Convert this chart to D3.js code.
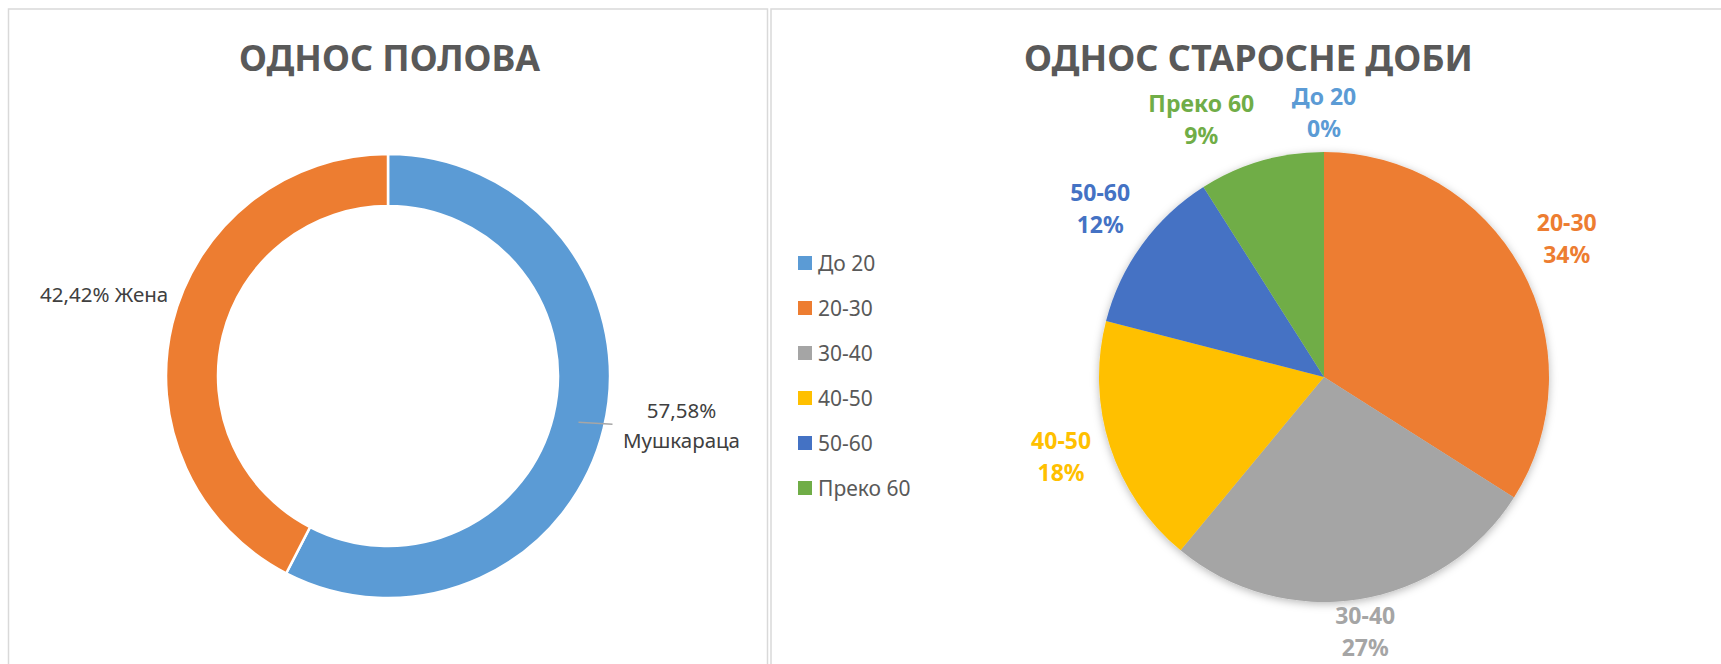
<!DOCTYPE html>
<meta charset="utf-8">
<title>Однос полова и старосне доби</title>
<style>
  body { margin: 0; background: #fff; }
  svg { display: block; font-family: "Noto Sans", "Open Sans", sans-serif; }
</style>
<body>
<script src="https://d3js.org/d3.v7.min.js"></script>
<script>

// gender split (doughnut)
var genderNames = ["Мушкараца", "Жена"];
var genderValues = [57.58, 42.42];
var genderColors = ["#5B9BD5", "#ED7D31"];

// age groups (pie)
var ageGroups = ["До 20", "20-30", "30-40", "40-50", "50-60", "Преко 60"];
var ageValues = [0, 34, 27, 18, 12, 9];
var ageColors = ["#5B9BD5", "#ED7D31", "#A5A5A5", "#FFC000", "#4472C4", "#70AD47"];

var titles = ["ОДНОС ПОЛОВА", "ОДНОС СТАРОСНЕ ДОБИ"];

var width = 1721,
    height = 664;

var svg = d3.select("body").append("svg")
    .attr("width", width)
    .attr("height", height);

var defs = svg.append("defs");
var shadow = defs.append("filter")
    .attr("id", "shadow")
    .attr("x", "-20%").attr("y", "-20%")
    .attr("width", "140%").attr("height", "140%");
shadow.append("feDropShadow")
    .attr("dx", 0).attr("dy", 2)
    .attr("stdDeviation", 4)
    .attr("flood-color", "#000")
    .attr("flood-opacity", 0.28);

// panel frames
svg.append("rect")
    .attr("x", 8.5).attr("y", 9)
    .attr("width", 759).attr("height", 700)
    .attr("fill", "none").attr("stroke", "#d9d9d9").attr("stroke-width", 1.5);
svg.append("rect")
    .attr("x", 771).attr("y", 9)
    .attr("width", 1000).attr("height", 700)
    .attr("fill", "none").attr("stroke", "#d9d9d9").attr("stroke-width", 1.5);

// titles (Calibri-like narrow bold, so squeeze to the reference width)
var titleSpec = [{x: 389.5, w: 301}, {x: 1248.5, w: 449}];
svg.selectAll("text.title")
  .data(titles)
  .enter().append("text")
    .attr("class", "title")
    .attr("x", (d, i) => titleSpec[i].x)
    .attr("y", 71)
    .attr("text-anchor", "middle")
    .attr("font-size", 36.5)
    .attr("font-weight", 700)
    .attr("fill", "#595959")
    .attr("textLength", (d, i) => titleSpec[i].w)
    .attr("lengthAdjust", "spacingAndGlyphs")
    .text(d => d);

// ---------- doughnut ----------
var dCx = 388, dCy = 376, dOuter = 222, dInner = 170;

var gPie = d3.pie().sort(null).value(d => d)(genderValues);
var dArc = d3.arc().innerRadius(dInner).outerRadius(dOuter);

var donut = svg.append("g").attr("transform", "translate(" + dCx + "," + dCy + ")");

donut.selectAll("path")
  .data(gPie)
  .enter().append("path")
    .attr("d", dArc)
    .attr("fill", (d, i) => genderColors[i])
    .attr("stroke", "#fff")
    .attr("stroke-width", 2.5);

var fmtComma = v => d3.format(".2f")(v).replace(".", ",") + "%";

function polar(a, r) { return [Math.sin(a) * r, -Math.cos(a) * r]; }

// Мушкараца: label moved out with leader line
var m = gPie[0], mMid = (m.startAngle + m.endAngle) / 2;
var lStart = polar(mMid, (dInner + dOuter) / 2);
var lEnd = [lStart[0] + 34, lStart[1] + 2];
donut.append("line")
    .attr("x1", lStart[0]).attr("y1", lStart[1])
    .attr("x2", lEnd[0]).attr("y2", lEnd[1])
    .attr("stroke", "#a6a6a6").attr("stroke-width", 1.5);
var mLab = donut.append("text")
    .attr("text-anchor", "middle")
    .attr("font-size", 20.5)
    .attr("fill", "#404040");
mLab.append("tspan").attr("x", lEnd[0] + 69).attr("y", lEnd[1] - 6).text(fmtComma(genderValues[0]));
mLab.append("tspan").attr("x", lEnd[0] + 69).attr("y", lEnd[1] + 24).text(genderNames[0]);

// Жена: single line left of the ring
var f = gPie[1], fMid = (f.startAngle + f.endAngle) / 2;
var fPt = polar(fMid, dOuter);
donut.append("text")
    .attr("x", fPt[0] - 4)
    .attr("y", fPt[1] - 22)
    .attr("text-anchor", "end")
    .attr("font-size", 20.5)
    .attr("fill", "#404040")
    .text(fmtComma(genderValues[1]) + " " + genderNames[1]);

// ---------- pie ----------
var pCx = 1324, pCy = 377, pR = 225;

var aPie = d3.pie().sort(null).value(d => d)(ageValues);
var pArc = d3.arc().innerRadius(0).outerRadius(pR);

var pie = svg.append("g").attr("transform", "translate(" + pCx + "," + pCy + ")");

pie.append("g")
    .attr("filter", "url(#shadow)")
  .selectAll("path")
  .data(aPie)
  .enter().append("path")
    .attr("d", pArc)
    .attr("fill", (d, i) => ageColors[i]);

// data labels: two lines, placed just outside the slice
var labels = pie.selectAll("text.lab")
  .data(aPie)
  .enter().append("text")
    .attr("class", "lab")
    .attr("text-anchor", "middle")
    .attr("font-size", 23)
    .attr("font-weight", 700)
    .attr("fill", (d, i) => ageColors[i]);

labels.append("tspan").attr("class", "l1").text((d, i) => ageGroups[i]);
labels.append("tspan").attr("class", "l2").text(d => Math.round(d.value) + "%");

var gap = 18, halfH = 16, boxH = 25, lineGap = 32, padX = 36, lift = 5;
var lab = [];
labels.each(function(d) {
  var t = d3.select(this);
  var w = Math.max(t.select(".l1").node().getComputedTextLength(),
                   t.select(".l2").node().getComputedTextLength()) / 2;
  lab.push({a: (d.startAngle + d.endAngle) / 2, w: w});
});

function place(o) {
  var ux = Math.sin(o.a), uy = -Math.cos(o.a);
  var dist = pR + gap + Math.abs(ux) * o.w + Math.abs(uy) * halfH;
  o.x = ux * dist; o.y = uy * dist - lift;
}
lab.forEach(place);

// nudge overlapping labels apart (Excel best fit does something similar)
for (var it = 0; it < 300; it++) {
  var moved = false;
  for (var i = 0; i < lab.length; i++) {
    for (var j = i + 1; j < lab.length; j++) {
      var A = lab[i], B = lab[j];
      if (Math.abs(A.x - B.x) < A.w + B.w + padX && Math.abs(A.y - B.y) < 2 * boxH) {
        var dd = ((B.a - A.a + 3 * Math.PI) % (2 * Math.PI)) - Math.PI;
        B.a += dd < 0 ? -0.01 : 0.01;
        place(B);
        moved = true;
      }
    }
  }
  if (!moved) break;
}

labels.each(function(d, i) {
  var o = lab[i], t = d3.select(this);
  t.select(".l1").attr("x", o.x).attr("y", o.y - lineGap / 2 + 8);
  t.select(".l2").attr("x", o.x).attr("y", o.y + lineGap / 2 + 8);
});

// legend
var legend = svg.append("g").attr("transform", "translate(798,263)");
var item = legend.selectAll("g")
  .data(ageGroups)
  .enter().append("g")
    .attr("transform", (d, i) => "translate(0," + i * 45 + ")");
item.append("rect")
    .attr("x", 0).attr("y", -7)
    .attr("width", 14).attr("height", 14)
    .attr("fill", (d, i) => ageColors[i]);
item.append("text")
    .attr("x", 20).attr("y", 7.5)
    .attr("font-size", 21)
    .attr("fill", "#595959")
    .text(d => d);

</script>
</body>
